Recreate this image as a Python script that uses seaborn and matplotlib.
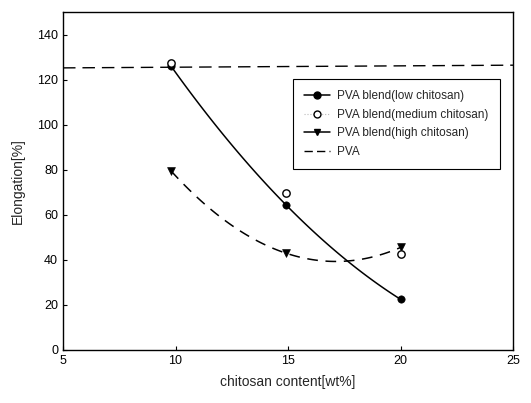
import numpy as np
import pandas as pd
import matplotlib
matplotlib.use("Agg")
import matplotlib.pyplot as plt
from matplotlib.lines import Line2D
import seaborn as sns

# ---- data ----
chitosan = [9.8, 14.9, 20.0]
low_chitosan = [126.0, 64.5, 22.5]
medium_chitosan = [127.5, 69.5, 42.5]
high_chitosan = [79.5, 43.0, 45.5]
pva_x = [5.0, 25.0]
pva_y = [125.2, 126.4]

x_ticks = [5, 10, 15, 20, 25]
y_ticks = [0, 20, 40, 60, 80, 100, 120, 140]

sns.set_theme(style="white")
plt.rcParams['font.family'] = ['Liberation Sans', 'DejaVu Sans']

fig = plt.figure(figsize=(5.31, 4.03), dpi=100)
ax = fig.add_axes([63/531, 1 - 350/403, (513-63)/531, (350-12)/403])

# smooth fitted curves through the measured points
xs = np.linspace(chitosan[0], chitosan[-1], 100)
low_fit = np.polyval(np.polyfit(chitosan, low_chitosan, 2), xs)
high_fit = np.polyval(np.polyfit(chitosan, high_chitosan, 2), xs)

sns.lineplot(x=pva_x, y=pva_y, ax=ax, color="black", lw=1.0,
             linestyle=(0, (9, 5)))
sns.lineplot(x=xs, y=low_fit, ax=ax, color="black", lw=1.1)
sns.lineplot(x=xs, y=high_fit, ax=ax, color="black", lw=1.1,
             linestyle=(0, (7, 5)))

sns.scatterplot(x=chitosan, y=low_chitosan, ax=ax, marker="o", s=28,
                color="black", edgecolor="black", zorder=5)
sns.scatterplot(x=chitosan, y=medium_chitosan, ax=ax, marker="o", s=28,
                facecolor="white", edgecolor="black", linewidth=1.0, zorder=6)
sns.scatterplot(x=chitosan, y=high_chitosan, ax=ax, marker="v", s=32,
                color="black", edgecolor="black", zorder=5)

ax.set_xlim(5, 25)
ax.set_ylim(0, 150)
ax.set_xticks(x_ticks)
ax.set_yticks(y_ticks)
ax.tick_params(direction="in", length=3, width=0.8, labelsize=9,
               colors="black", bottom=True, left=True)
for sp in ax.spines.values():
    sp.set_color("black")
    sp.set_linewidth(1.0)

ax.set_xlabel("chitosan content[wt%]", fontsize=10, labelpad=6)
ax.set_ylabel("Elongation[%]", fontsize=10, labelpad=9)

handles = [
    Line2D([], [], color="black", lw=1.1, marker="o", markersize=5,
           markerfacecolor="black"),
    Line2D([], [], color="#bbbbbb", lw=0.8, linestyle=":", marker="o",
           markersize=5, markerfacecolor="white", markeredgecolor="black"),
    Line2D([], [], color="black", lw=1.1, marker="v", markersize=5,
           markerfacecolor="black"),
    Line2D([], [], color="black", lw=1.0, linestyle=(0, (6, 3))),
]
labels = ["PVA blend(low chitosan)", "PVA blend(medium chitosan)",
          "PVA blend(high chitosan)", "PVA"]
leg = ax.legend(handles, labels, loc="upper left",
                bbox_to_anchor=((293-63)/450, (350-79)/338),
                fontsize=8.5, frameon=True, fancybox=False, framealpha=1,
                edgecolor="black", borderpad=0.95, handlelength=2.2,
                handletextpad=0.6, labelspacing=0.55, borderaxespad=0)
leg.get_frame().set_linewidth(0.8)

fig.savefig("out.png", dpi=100)
